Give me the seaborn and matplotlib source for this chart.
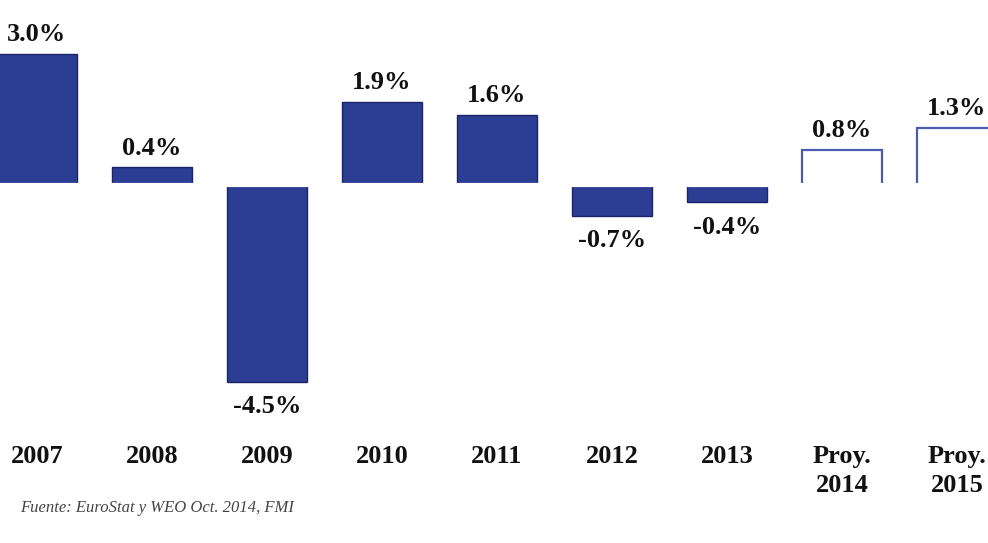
import pandas as pd
import seaborn as sns
import matplotlib.pyplot as plt

# data
years = ["2007", "2008", "2009", "2010", "2011", "2012", "2013", "2014", "2015"]
growth = [3.0, 0.4, -4.5, 1.9, 1.6, -0.7, -0.4, 0.8, 1.3]
year_labels = ["2007", "2008", "2009", "2010", "2011", "2012", "2013", "Proy.\n2014", "Proy.\n2015"]
projected = [False, False, False, False, False, False, False, True, True]

df = pd.DataFrame({"year": years, "growth": growth})

sns.set_theme(style="white")
plt.rcParams['font.family'] = ['Liberation Serif', 'DejaVu Serif']

blue = "#2C3D94"

fig = plt.figure(figsize=(9.88, 5.43), dpi=100)
ax = fig.add_axes([0, 0, 1, 1])

sns.barplot(data=df, x="year", y="growth", color=blue, width=0.70,
            saturation=1, edgecolor="#1A2466", linewidth=1, ax=ax)

# projected years are drawn as open outlines
for patch, proj in zip(ax.patches, projected):
    if proj:
        patch.set_facecolor("white")
        patch.set_edgecolor("#4A5BB0")
        patch.set_linewidth(1.6)

# hide the bottom edge of the open bars
ax.axhline(0, color="white", lw=3, zorder=5)

for i, (v, lab) in enumerate(zip(growth, year_labels)):
    if v >= 0:
        ax.text(i, v + 0.18, f"{v:.1f}%", ha="center", va="bottom",
                fontsize=19, fontweight="bold", color="#111111")
    else:
        ax.text(i, v - 0.3, f"{v:.1f}%", ha="center", va="top",
                fontsize=19, fontweight="bold", color="#111111")
    ax.text(i, -5.95, lab, ha="center", va="top", fontsize=19,
            fontweight="bold", color="#111111", linespacing=1.35)

ax.set_xlim(-0.32, 8.27)
ax.set_ylim(-8.19, 4.23)
ax.axis("off")

fig.text(0.02, 0.064, "Fuente: EuroStat y WEO Oct. 2014, FMI", fontsize=12,
         style="italic", color="#444444", va="center")

fig.savefig("out.png", dpi=100)
